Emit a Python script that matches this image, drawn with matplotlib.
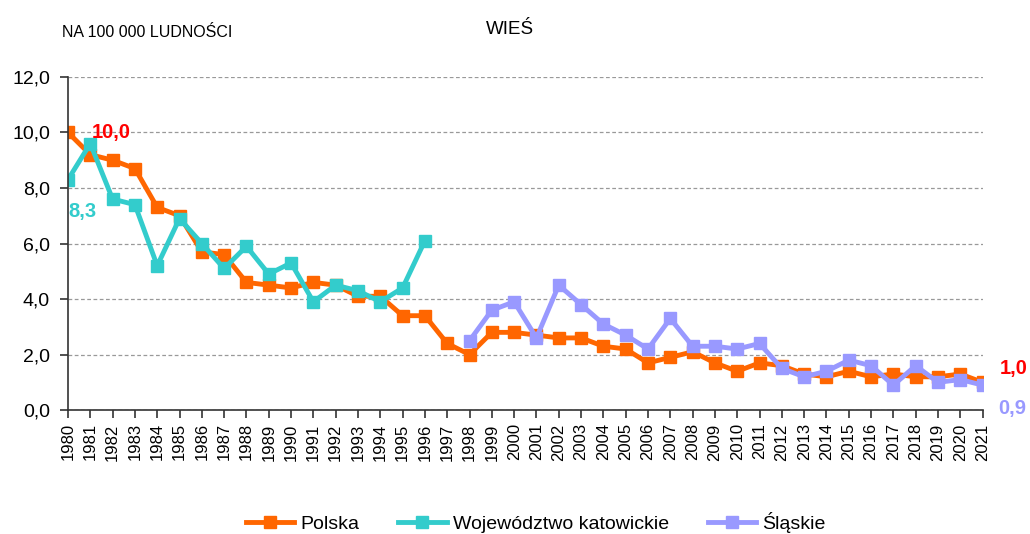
#!/usr/bin/env python3
"""
WIEŚ - rates per 100 000 population, 1980-2021.
"""

import matplotlib
matplotlib.use('Agg')
import matplotlib.pyplot as plt

plt.rcParams['font.family'] = ['Liberation Sans', 'DejaVu Sans']

# data
years = list(range(1980, 2022))

polska = [10.0, 9.2, 9.0, 8.7, 7.3, 7.0, 5.7, 5.6, 4.6, 4.5,
          4.4, 4.6, 4.5, 4.1, 4.1, 3.4, 3.4, 2.4, 2.0, 2.8,
          2.8, 2.7, 2.6, 2.6, 2.3, 2.2, 1.7, 1.9, 2.1, 1.7,
          1.4, 1.7, 1.6, 1.3, 1.2, 1.4, 1.2, 1.3, 1.2, 1.2,
          1.3, 1.0]

katowickie_years = list(range(1980, 1997))
katowickie = [8.3, 9.6, 7.6, 7.4, 5.2, 6.9, 6.0, 5.1, 5.9, 4.9,
              5.3, 3.9, 4.5, 4.3, 3.9, 4.4, 6.1]

slaskie_years = list(range(1998, 2022))
slaskie = [2.5, 3.6, 3.9, 2.6, 4.5, 3.8, 3.1, 2.7, 2.2, 3.3,
           2.3, 2.3, 2.2, 2.4, 1.5, 1.2, 1.4, 1.8, 1.6, 0.9,
           1.6, 1.0, 1.1, 0.9]

c_pl = '#FF6600'
c_kat = '#33CCCC'
c_sl = '#9999FF'

fig = plt.figure(figsize=(10.30, 5.34), dpi=100)
ax = fig.add_axes([0.066, 0.232, 0.888, 0.624])

ax.plot(years, polska, '-s', color=c_pl, lw=3.5, ms=9, label='Polska')
ax.plot(katowickie_years, katowickie, '-s', color=c_kat, lw=3.5, ms=9,
        label='Województwo katowickie')
ax.plot(slaskie_years, slaskie, '-s', color=c_sl, lw=3.5, ms=9, label='Śląskie')

ax.set_xlim(1980, 2021)
ax.set_ylim(0, 12)
ax.set_yticks(range(0, 13, 2))
ax.set_yticklabels([f'{v},0' for v in range(0, 13, 2)], fontsize=14)
ax.set_xticks(years)
ax.set_xticklabels([str(y) for y in years], rotation=90, fontsize=12)
ax.tick_params(axis='both', direction='out', length=6, color='#333333', width=1.2)
ax.tick_params(axis='y', pad=7)

ax.yaxis.grid(True, linestyle=(0, (3, 2)), color='#999999', lw=0.9)
ax.set_axisbelow(True)
for s in ['top', 'right']:
    ax.spines[s].set_visible(False)
ax.spines['left'].set_color('#333333')
ax.spines['bottom'].set_color('#333333')
ax.spines['left'].set_linewidth(1.2)
ax.spines['bottom'].set_linewidth(1.2)

# value labels
lab = dict(textcoords='offset points', fontsize=14.5, fontweight='bold',
           ha='left', va='center', annotation_clip=False)
ax.annotate('10,0', (1980, polska[0]), xytext=(17, 0), color='#FF0000', **lab)
ax.annotate('8,3', (1980, katowickie[0]), xytext=(0, -23), color=c_kat, **lab)
ax.annotate('1,0', (2021, polska[-1]), xytext=(12.5, 10), color='#FF0000', **lab)
ax.annotate('0,9', (2021, slaskie[-1]), xytext=(11.5, -17), color=c_sl, **lab)

fig.text(0.495, 0.945, 'WIEŚ', ha='center', va='center', fontsize=13.5)
fig.text(0.06, 0.94, 'NA 100 000 LUDNOŚCI', ha='left', va='center', fontsize=11.5)

fig.legend(loc='lower center', ncol=3, frameon=False, fontsize=14,
           bbox_to_anchor=(0.52, -0.03), handlelength=2.5, columnspacing=2.0,
           handletextpad=0.3)

plt.savefig('out.png', dpi=100)
